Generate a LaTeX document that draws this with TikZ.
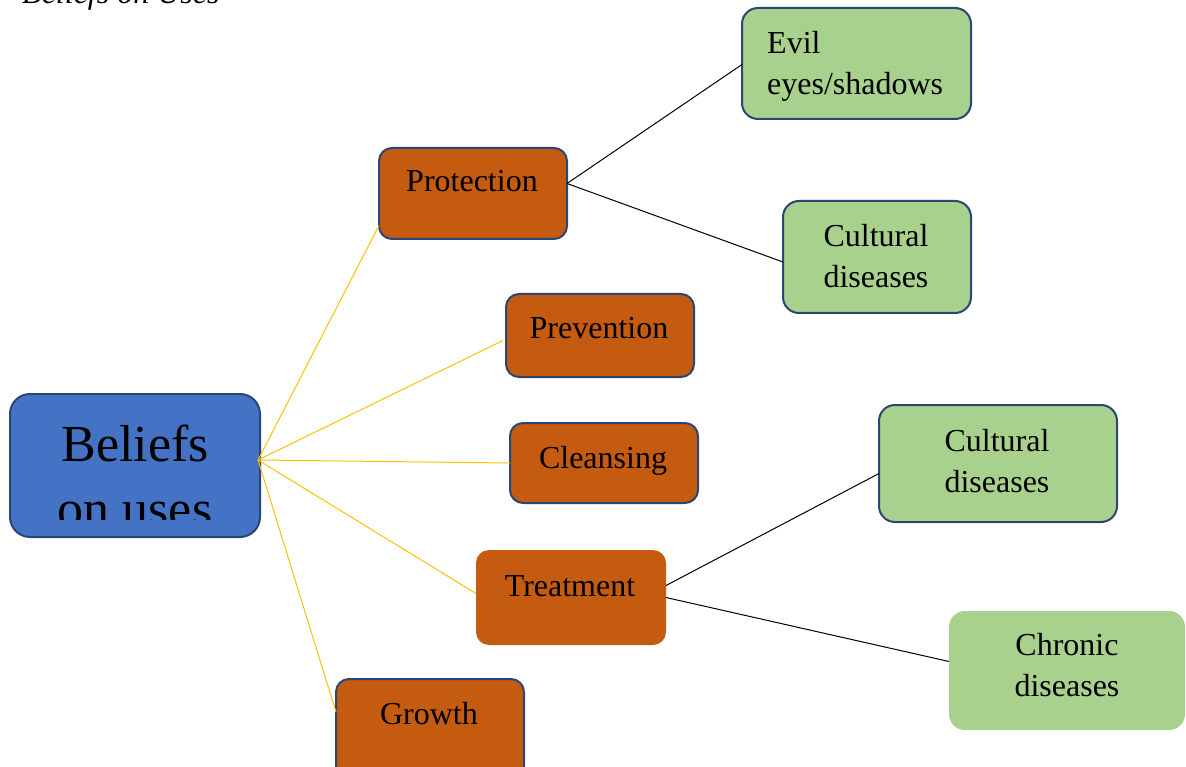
\documentclass[tikz,border=0pt]{standalone}
\usepackage{fontspec}
\setmainfont{Liberation Serif}
\begin{document}
\definecolor{rootblue}{HTML}{4472C4}
\definecolor{rimblue}{HTML}{2A4674}
\definecolor{rust}{HTML}{C55A11}
\definecolor{sage}{HTML}{A9D18E}
\definecolor{gold}{HTML}{FFC000}
\begin{tikzpicture}[x=1pt,y=-1pt,
  box/.style={draw=rimblue, line width=2pt, rounded corners=13pt, inner sep=0pt, outer sep=0pt},
  plain/.style={rounded corners=13pt, inner sep=0pt, outer sep=0pt},
  label/.style={inner sep=0pt, anchor=base, font=\fontsize{32}{41}\selectfont, align=center},
  branch/.style={gold, line width=1pt},
  twig/.style={black, line width=1pt}]
\useasboundingbox (0,0) rectangle (1186,767);
\clip (0,0) rectangle (1186,767);

% caption above the diagram
\node[inner sep=0pt, anchor=base west, font=\fontsize{32}{38}\selectfont\itshape] (cap) at (22,4) {Beliefs on Uses};

% root
\path[box, rounded corners=20pt, fill=rootblue] (10,394) rectangle (260,537);
\coordinate (root) at (258,460);
\begin{scope}
  \clip (12,396) rectangle (258,519);
  % the base anchor sits on the last line
  \node[inner sep=0pt, anchor=base, font=\fontsize{52}{65}\selectfont, align=center] (roottext) at (135,526) {Beliefs\\on uses};
\end{scope}

% second level
\node[box, fill=rust, minimum width=188pt, minimum height=91pt] (prot) at (473,193.5) {};
\node[box, fill=rust, minimum width=188pt, minimum height=83pt] (prev) at (600,335.5) {};
\node[box, fill=rust, minimum width=188pt, minimum height=80pt] (clean) at (604,463) {};
\node[plain, fill=rust, minimum width=190pt, minimum height=95pt] (treat) at (571,597.5) {};
\node[box, fill=rust, minimum width=188pt, minimum height=100pt] (grow) at (430,729) {};

\node[label] (protT) at (472,192) {Protection};
\node[label] (prevT) at (599,338) {Prevention};
\node[label] (cleanT) at (603,468) {Cleansing};
\node[label] (treatT) at (570,596) {Treatment};
\node[label] (growT) at (429,724) {Growth};

% third level
\node[box, rounded corners=16pt, fill=sage, minimum width=229pt, minimum height=111pt] (evil) at (856.5,63.5) {};
\node[box, rounded corners=16pt, fill=sage, minimum width=188pt, minimum height=112pt] (cult1) at (877,257) {};
\node[box, rounded corners=16pt, fill=sage, minimum width=238pt, minimum height=117pt] (cult2) at (998,463.5) {};
\node[plain, rounded corners=16pt, fill=sage, minimum width=236pt, minimum height=119pt] (chron) at (1067,670.5) {};

\node[label, anchor=base west, align=left] (evilT) at (767,95) {Evil\\eyes/shadows};
\node[label] (cult1T) at (876,288) {Cultural\\diseases};
\node[label] (cult2T) at (997,492) {Cultural\\diseases};
\node[label] (chronT) at (1067,696) {Chronic\\diseases};

% connectors from the root (yshift is upward on the page)
\draw[branch] (root) -- ([yshift=-32pt]prot.west);
\draw[branch] (root) -- ([xshift=-3pt,yshift=-5pt]prev.west);
\draw[branch] (root) -- (clean.west);
\draw[branch] (root) -- ([yshift=4pt]treat.west);
\draw[branch] (root) -- ([yshift=17pt]grow.west);

% connectors to the leaves
\draw[twig] ([yshift=10pt]prot.east) -- ([yshift=-1pt]evil.west);
\draw[twig] ([yshift=10pt]prot.east) -- ([yshift=-5pt]cult1.west);
\draw[twig] ([yshift=12pt]treat.east) -- ([yshift=-10pt]cult2.west);
\draw[twig] ([yshift=0pt]treat.east) -- ([yshift=9pt]chron.west);
\end{tikzpicture}
\end{document}
